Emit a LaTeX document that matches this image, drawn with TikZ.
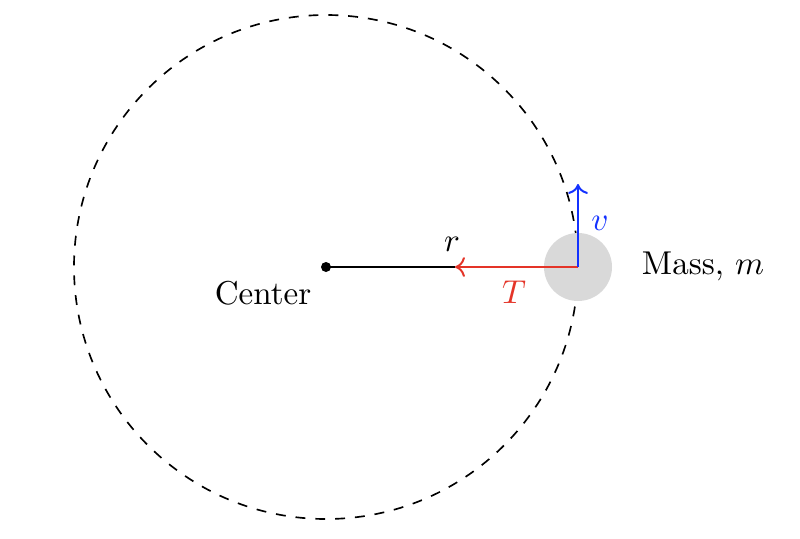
\documentclass[tikz,border=0pt]{standalone}
\usetikzlibrary{arrows.meta}
\definecolor{tred}{RGB}{228,52,40}
\definecolor{vblue}{RGB}{20,50,255}
\begin{document}
\begin{tikzpicture}[x=0.3025pt,y=-0.3025pt,
  lbl/.style={inner sep=0pt},
  vec/.style={line width=0.6pt,-{To[length=3pt,width=6pt]}}]
\useasboundingbox (0,0) rectangle (800,538);
\coordinate (c) at (326,267);
\coordinate (m) at (578,267);
\coordinate (rt) at (455,267);
\coordinate (vt) at (578,184);
\draw[dashed,line width=0.5pt] (c) circle[radius=252];
\fill[gray!30] (m) circle[radius=34];
\fill (c) circle[radius=5];
\draw[line width=0.5pt] (c) -- (rt);
\draw[vec,tred] (m) -- (rt);
\draw[vec,vblue] (m) -- (vt);
\node[lbl] (r) at (452,244) {$r$};
\node[lbl,vblue] (v) at (600,223) {$v$};
\node[lbl,tred] (T) at (514,292) {$T$};
\node[lbl] (cl) at (263,293) {Center};
\node[lbl] (ml) at (703,266) {Mass, $m$};
\end{tikzpicture}
\end{document}
